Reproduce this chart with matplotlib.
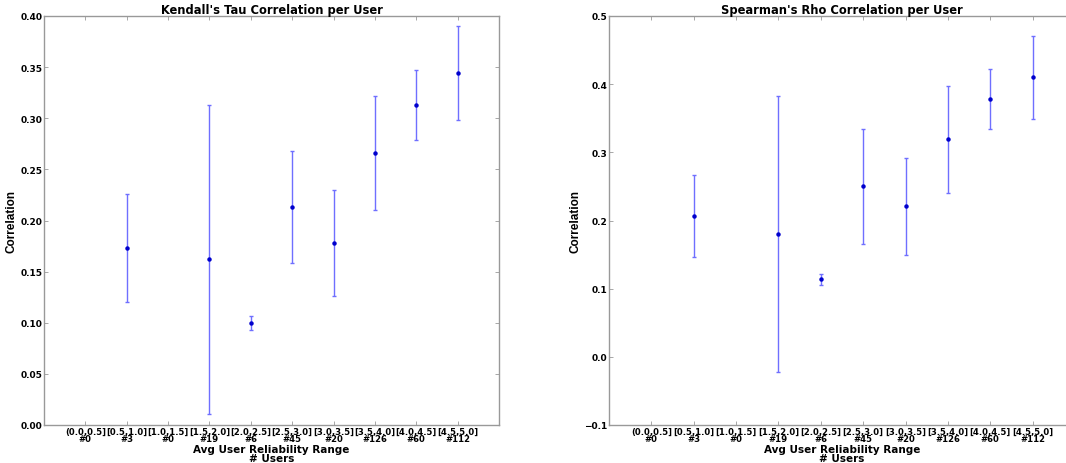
import numpy as np
import matplotlib
matplotlib.use("Agg")
import matplotlib.pyplot as plt

ranges = ["(0.0,0.5]", "[0.5,1.0]", "[1.0,1.5]", "[1.5,2.0]", "[2.0,2.5]",
          "[2.5,3.0]", "[3.0,3.5]", "[3.5,4.0]", "[4.0,4.5]", "[4.5,5.0]"]
n_users = [0, 3, 0, 19, 6, 45, 20, 126, 60, 112]

# bins with users (empty bins have no point)
idx = [1, 3, 4, 5, 6, 7, 8, 9]
tau_mean = [0.173, 0.162, 0.100, 0.213, 0.178, 0.266, 0.313, 0.344]
tau_err = [0.053, 0.151, 0.007, 0.055, 0.052, 0.056, 0.034, 0.046]
rho_mean = [0.207, 0.180, 0.114, 0.250, 0.221, 0.319, 0.378, 0.410]
rho_err = [0.060, 0.202, 0.008, 0.084, 0.071, 0.078, 0.044, 0.061]

tick_labels = [f"{r}\n#{n}" for r, n in zip(ranges, n_users)]

fig = plt.figure(figsize=(10.66, 4.64), dpi=100)
ax1 = fig.add_axes([44 / 1066, 38 / 464, 455 / 1066, 409 / 464])
ax2 = fig.add_axes([609 / 1066, 38 / 464, 466 / 1066, 409 / 464])

ylabel_font = dict(family=["Liberation Sans", "DejaVu Sans"],
                   fontweight="bold", fontsize=8.5)


def draw(ax, means, errs, title, ylim, yticks, fmt):
    ax.errorbar(idx, means, yerr=errs, fmt="none", ecolor="#6f6fff",
                elinewidth=1, capsize=1.5, capthick=1)
    ax.plot(idx, means, "o", color="#0000cc", markersize=2.2)
    ax.set_xlim(-1, 10)
    ax.set_ylim(*ylim)
    ax.set_xticks(range(len(ranges)))
    ax.set_xticklabels(tick_labels, fontsize=6.1, fontweight="bold",
                       linespacing=0.85)
    ax.set_yticks(yticks)
    ax.set_yticklabels([fmt.format(v).replace("-", "\u2212") for v in yticks],
                       fontsize=6.5, fontweight="bold")
    ax.tick_params(direction="in", length=3, width=0.6, color="#999999",
                   top=True, right=True, pad=1)
    for s in ax.spines.values():
        s.set_color("#999999")
        s.set_linewidth(1)
    ax.set_title(title, fontsize=8.3, fontweight="bold", pad=2)
    ax.set_xlabel("Avg User Reliability Range\n# Users", fontsize=7.5,
                  fontweight="bold", labelpad=0.5, linespacing=0.85)
    ax.set_ylabel("Correlation", **ylabel_font)
    ax.yaxis.set_label_coords(-0.058, 0.5)


draw(ax1, tau_mean, tau_err, "Kendall's Tau Correlation per User",
     (0, 0.40), np.arange(0, 0.401, 0.05), "{:.2f}")
draw(ax2, rho_mean, rho_err, "Spearman's Rho Correlation per User",
     (-0.1, 0.5), np.arange(-0.1, 0.501, 0.1), "{:.1f}")

fig.savefig("out.png", dpi=100)
